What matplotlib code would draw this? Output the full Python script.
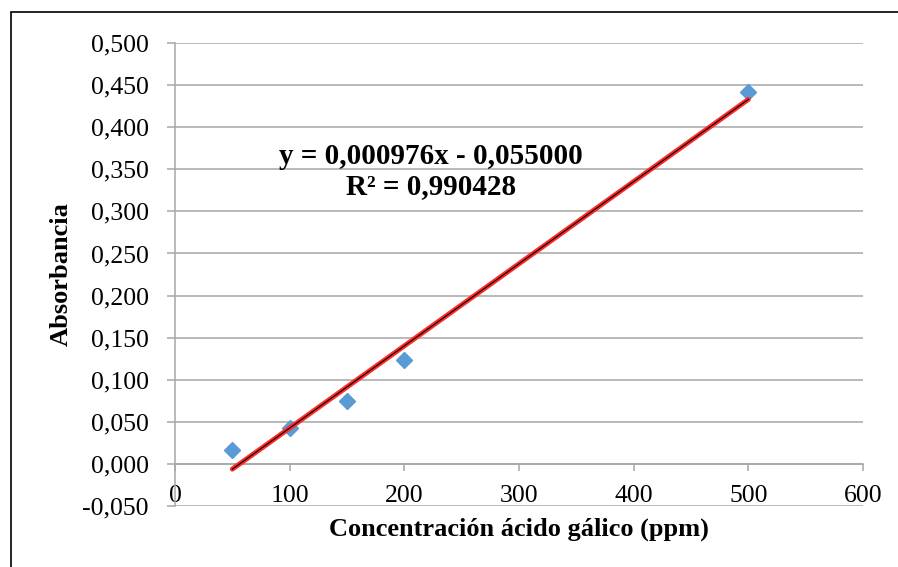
import numpy as np
import matplotlib.pyplot as plt
from matplotlib.patches import Rectangle
from matplotlib.ticker import FuncFormatter

plt.rcParams['font.family'] = ['Liberation Serif', 'DejaVu Serif']

# data
conc = [50, 100, 150, 200, 500]
absorb = [0.017, 0.043, 0.075, 0.124, 0.442]
slope = 0.000976
intercept = -0.055
r2 = 0.990428

fig = plt.figure(figsize=(8.98, 5.67), dpi=100)
ax = fig.add_axes([175/898, 1-506/567, 688/898, 463/567])

# horizontal gridlines
ax.set_ylim(-0.05, 0.5)
ax.set_xlim(0, 600)
ax.set_yticks(np.arange(-0.05, 0.501, 0.05))
ax.set_xticks(np.arange(0, 601, 100))
ax.yaxis.grid(True, color='#a6a6a6', lw=1.1)
ax.set_axisbelow(True)

ax.yaxis.set_major_formatter(FuncFormatter(lambda v, p: f"{v:.3f}".replace('.', ',').replace('−', '-')))
ax.xaxis.set_major_formatter(FuncFormatter(lambda v, p: f"{v:.0f}"))

for s in ['top', 'right']:
    ax.spines[s].set_visible(False)
ax.spines['left'].set_color('#a6a6a6')
ax.spines['left'].set_linewidth(1.1)
ax.spines['bottom'].set_position(('data', 0))
ax.spines['bottom'].set_color('#a6a6a6')
ax.spines['bottom'].set_linewidth(1.1)

ax.tick_params(axis='y', length=6, width=1.1, color='#a6a6a6', pad=13, labelsize=18.5)
ax.tick_params(axis='x', length=5, width=1.1, color='#a6a6a6', pad=10, labelsize=18.5)

# scatter points
ax.plot(conc, absorb, 'D', color='#5b9bd5', ms=8.5, zorder=3)

# linear trend line
xl = np.array([min(conc), max(conc)])
yl = slope * xl + intercept
ax.plot(xl, yl, color='#ff2a2a', lw=3.6, solid_capstyle='round', zorder=4)
ax.plot(xl, yl, color='black', lw=0.8, zorder=5)

ax.text(223, 0.347, f"y = {slope:.6f}x - {abs(intercept):.6f}\nR² = {r2:.6f}".replace('.', ','),
        ha='center', va='center', fontsize=21, fontweight='bold', linespacing=1.15)

ax.set_ylabel('Absorbancia', fontsize=19, fontweight='bold', labelpad=7)
ax.set_xlabel('Concentración ácido gálico (ppm)', fontsize=19, fontweight='bold')
ax.xaxis.set_label_coords(0.5, -0.025)

# outer chart border (cut at right and bottom)
fig.patches.append(Rectangle((11/898, -0.1), 1.2, 1 - 12/567 + 0.1, transform=fig.transFigure,
                             fill=False, edgecolor='black', lw=1.2))

fig.savefig('out.png', dpi=100)
